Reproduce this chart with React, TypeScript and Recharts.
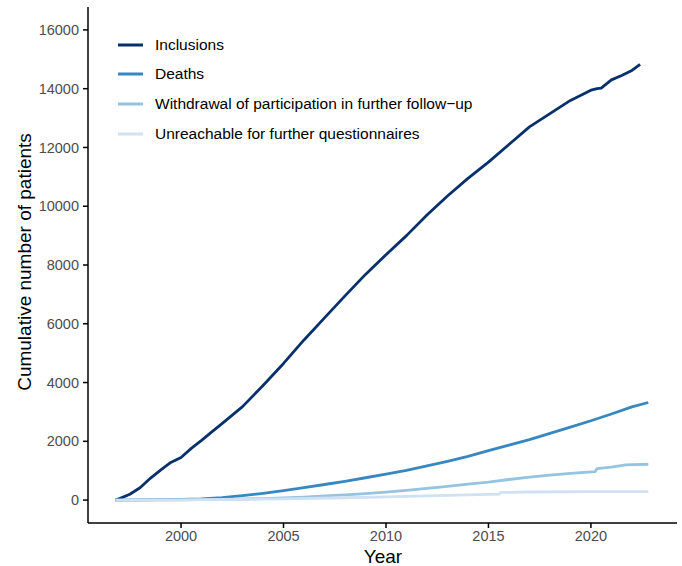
import { LineChart, Line, XAxis, YAxis, Legend } from "recharts";

const yearTicks = [2000, 2005, 2010, 2015, 2020];
const countTicks = [0, 2000, 4000, 6000, 8000, 10000, 12000, 14000, 16000];

const seriesNames = [
  "Inclusions",
  "Deaths",
  "Withdrawal of participation in further follow\u2212up",
  "Unreachable for further questionnaires",
];
const seriesColors = ["#08306b", "#3787c0", "#94c4df", "#cfe1f2"];

const inclusionYears = [1996.8, 1997, 1997.5, 1998, 1998.5, 1999, 1999.5, 2000, 2000.5, 2001, 2001.5, 2002, 2003, 2004, 2005, 2006, 2007, 2008, 2009, 2010, 2011, 2012, 2013, 2014, 2015, 2016, 2017, 2018, 2019, 2020, 2020.3, 2020.5, 2021, 2021.5, 2022, 2022.4];
const inclusionValues = [0, 50, 200, 420, 740, 1020, 1280, 1450, 1760, 2030, 2320, 2600, 3180, 3900, 4650, 5450, 6200, 6950, 7680, 8350, 9000, 9700, 10350, 10950, 11500, 12100, 12700, 13150, 13600, 13950, 14000, 14020, 14300, 14450, 14620, 14830];

const deathYears = [1996.8, 1998, 2000, 2001, 2002, 2003, 2004, 2005, 2006, 2007, 2008, 2009, 2010, 2011, 2012, 2013, 2014, 2015, 2016, 2017, 2018, 2019, 2020, 2021, 2022, 2022.8];
const deathValues = [0, 5, 25, 40, 80, 150, 230, 320, 420, 530, 640, 760, 880, 1010, 1160, 1320, 1490, 1680, 1870, 2060, 2270, 2480, 2700, 2930, 3170, 3320];

const withdrawalYears = [1996.8, 2000, 2002, 2004, 2005, 2006, 2007, 2008, 2009, 2010, 2011, 2012, 2013, 2014, 2015, 2016, 2017, 2018, 2019, 2020.2, 2020.3, 2021, 2021.7, 2022.8];
const withdrawalValues = [0, 10, 25, 50, 70, 100, 140, 180, 220, 270, 330, 400, 470, 540, 610, 700, 780, 850, 910, 965, 1070, 1120, 1200, 1220];

const unreachableYears = [1996.8, 2000, 2005, 2008, 2010, 2012, 2014, 2015.5, 2015.6, 2017, 2020, 2022.8];
const unreachableValues = [0, 5, 40, 80, 110, 140, 175, 200, 260, 275, 285, 290];

const toRows = (years: number[], values: number[]) =>
  years.map((year, i) => ({ year, value: values[i] }));

const series = [
  toRows(inclusionYears, inclusionValues),
  toRows(deathYears, deathValues),
  toRows(withdrawalYears, withdrawalValues),
  toRows(unreachableYears, unreachableValues),
];

const font = "'Liberation Sans', Arial, sans-serif";

function LegendBox() {
  return (
    <div style={{ fontFamily: font, fontSize: 15.5, color: "#000" }}>
      {seriesNames.map((name, i) => (
        <div key={name} style={{ display: "flex", alignItems: "center", height: 29.6 }}>
          <svg width={37} height={10}>
            <line x1={0} y1={5} x2={25} y2={5} stroke={seriesColors[i]} strokeWidth={3} />
          </svg>
          <span>{name}</span>
        </div>
      ))}
    </div>
  );
}

export default function App() {
  return (
    <div style={{ width: 682, height: 566 }}>
      <style>{"body{margin:0}"}</style>
      <LineChart width={682} height={566} margin={{ top: 7, right: 5, left: 0, bottom: 0 }}>
        <XAxis
          type="number"
          dataKey="year"
          domain={[1995.46, 2024.2]}
          ticks={yearTicks}
          allowDataOverflow
          height={43}
          tickSize={5}
          tickMargin={3}
          stroke="#000"
          strokeWidth={1.5}
          tick={{ fill: "#4d4d4d", fontSize: 14.5, fontFamily: font }}
          label={() => (
            <text x={383} y={563} textAnchor="middle" fontSize={19} fontFamily={font} fill="#000">
              Year
            </text>
          )}
        />
        <YAxis
          type="number"
          dataKey="value"
          domain={[-780, 16780]}
          ticks={countTicks}
          allowDataOverflow
          width={88}
          tickSize={5}
          tickMargin={4}
          stroke="#000"
          strokeWidth={1.5}
          tick={{ fill: "#4d4d4d", fontSize: 14.5, fontFamily: font }}
          label={() => (
            <text
              x={24}
              y={262}
              transform="rotate(-90 24 262)"
              textAnchor="middle"
              dominantBaseline="central"
              fontSize={19}
              fontFamily={font}
              fill="#000"
            >
              Cumulative number of patients
            </text>
          )}
        />
        <Legend
          layout="vertical"
          align="center"
          verticalAlign="middle"
          content={() => <LegendBox />}
          wrapperStyle={{ left: 118, top: 30, width: 440 }}
        />
        {series.map((rows, i) => (
          <Line
            key={seriesNames[i]}
            data={rows}
            dataKey="value"
            name={seriesNames[i]}
            type="linear"
            stroke={seriesColors[i]}
            strokeWidth={2.8}
            strokeLinejoin="round"
            dot={false}
            activeDot={false}
            isAnimationActive={false}
          />
        ))}
      </LineChart>
    </div>
  );
}
